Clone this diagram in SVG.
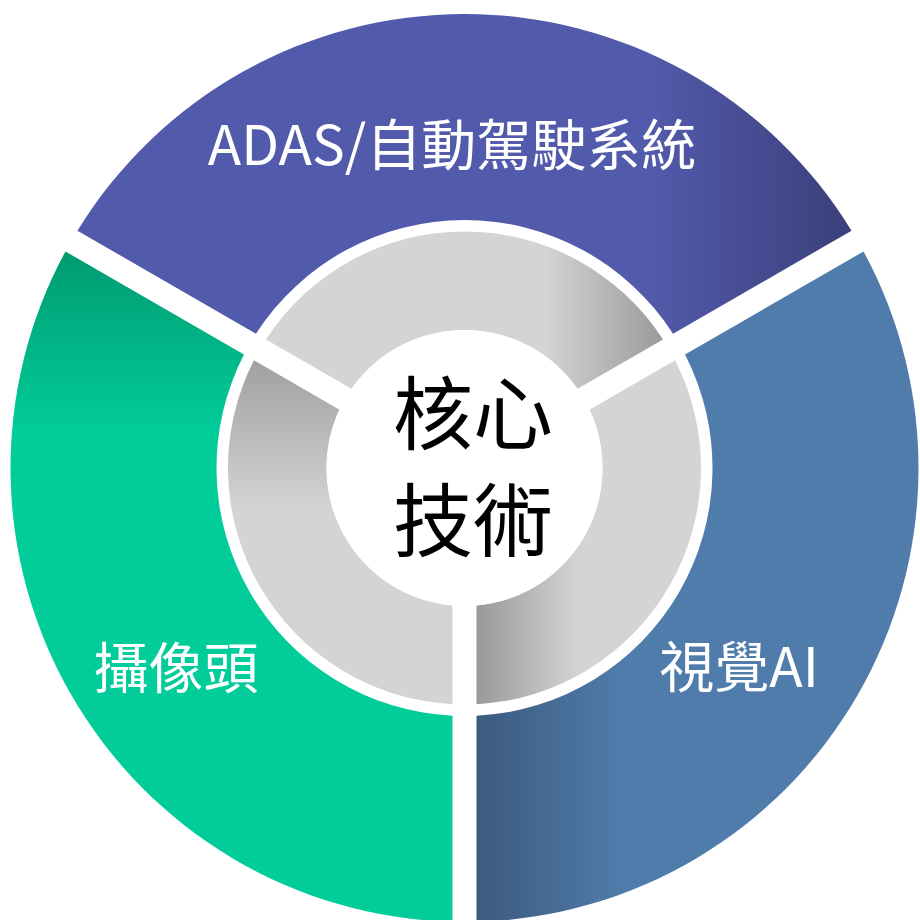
<svg xmlns="http://www.w3.org/2000/svg" width="920" height="920" viewBox="0 0 920 920">
  <defs>
    <linearGradient id="gPurple" gradientUnits="userSpaceOnUse" x1="650" y1="0" x2="857" y2="0">
      <stop offset="0" stop-color="#525aab"/>
      <stop offset="1" stop-color="#3a3e78"/>
    </linearGradient>
    <linearGradient id="gBlue" gradientUnits="userSpaceOnUse" x1="476" y1="0" x2="625" y2="0">
      <stop offset="0" stop-color="#3c5a7e"/>
      <stop offset="1" stop-color="#507cab"/>
    </linearGradient>
    <linearGradient id="gGreen" gradientUnits="userSpaceOnUse" x1="0" y1="250" x2="0" y2="430">
      <stop offset="0" stop-color="#009a70"/>
      <stop offset="1" stop-color="#02cc9a"/>
    </linearGradient>
    <linearGradient id="gGrayTop" gradientUnits="userSpaceOnUse" x1="545" y1="0" x2="665" y2="0">
      <stop offset="0" stop-color="#d4d4d4"/>
      <stop offset="1" stop-color="#999999"/>
    </linearGradient>
    <linearGradient id="gGrayRight" gradientUnits="userSpaceOnUse" x1="476" y1="0" x2="580" y2="0">
      <stop offset="0" stop-color="#999999"/>
      <stop offset="1" stop-color="#d4d4d4"/>
    </linearGradient>
    <linearGradient id="gGrayLeft" gradientUnits="userSpaceOnUse" x1="0" y1="360" x2="0" y2="510">
      <stop offset="0" stop-color="#a0a0a0"/>
      <stop offset="1" stop-color="#d4d4d4"/>
    </linearGradient>
  </defs>
  <style>
    .label { font-family: "Noto Sans CJK TC", "Noto Sans", sans-serif; font-size: 55px; fill: #ffffff; text-anchor: middle; }
    .core { font-family: "Noto Sans CJK TC", "Noto Sans", sans-serif; font-size: 80px; fill: #000000; text-anchor: middle; }
  </style>
  <rect width="920" height="920" fill="#ffffff"/>

  <g id="seg-adas">
    <path fill="url(#gPurple)" d="M 77.47 230.69 A 454 454 0 0 1 851.53 230.69 L 673.02 333.75 A 248 248 0 0 0 255.98 333.75 Z"/>
    <text class="label" x="452" y="165">ADAS/自動駕駛系統</text>
  </g>
  <g id="seg-vision">
    <path fill="url(#gBlue)" d="M 863.53 251.48 A 454 454 0 0 1 476.5 921.84 L 476.5 715.71 A 248 248 0 0 0 685.02 354.55 Z"/>
    <text class="label" x="739" y="687">視覺AI</text>
  </g>
  <g id="seg-camera">
    <path fill="url(#gGreen)" d="M 452.5 921.84 A 454 454 0 0 1 65.46 251.48 L 243.98 354.55 A 248 248 0 0 0 452.5 715.71 Z"/>
    <text class="label" x="176" y="688">攝像頭</text>
  </g>

  <g id="inner-top">
    <path fill="url(#gGrayTop)" d="M 265.95 339.51 A 236.5 236.5 0 0 1 663.05 339.51 L 577.56 388.87 A 138 138 0 0 0 351.44 388.87 Z"/>
  </g>
  <g id="inner-right">
    <path fill="url(#gGrayRight)" d="M 675.05 360.31 A 236.5 236.5 0 0 1 476.5 704.19 L 476.5 605.48 A 138 138 0 0 0 589.56 409.66 Z"/>
  </g>
  <g id="inner-left">
    <path fill="url(#gGrayLeft)" d="M 452.5 704.19 A 236.5 236.5 0 0 1 253.95 360.31 L 339.44 409.66 A 138 138 0 0 0 452.5 605.48 Z"/>
  </g>

  <g id="core">
    <circle cx="464.5" cy="468" r="138" fill="#ffffff"/>
    <text class="core" x="473" y="443">核心</text>
    <text class="core" x="473" y="550">技術</text>
  </g>

  <g id="connectors"/>
</svg>
